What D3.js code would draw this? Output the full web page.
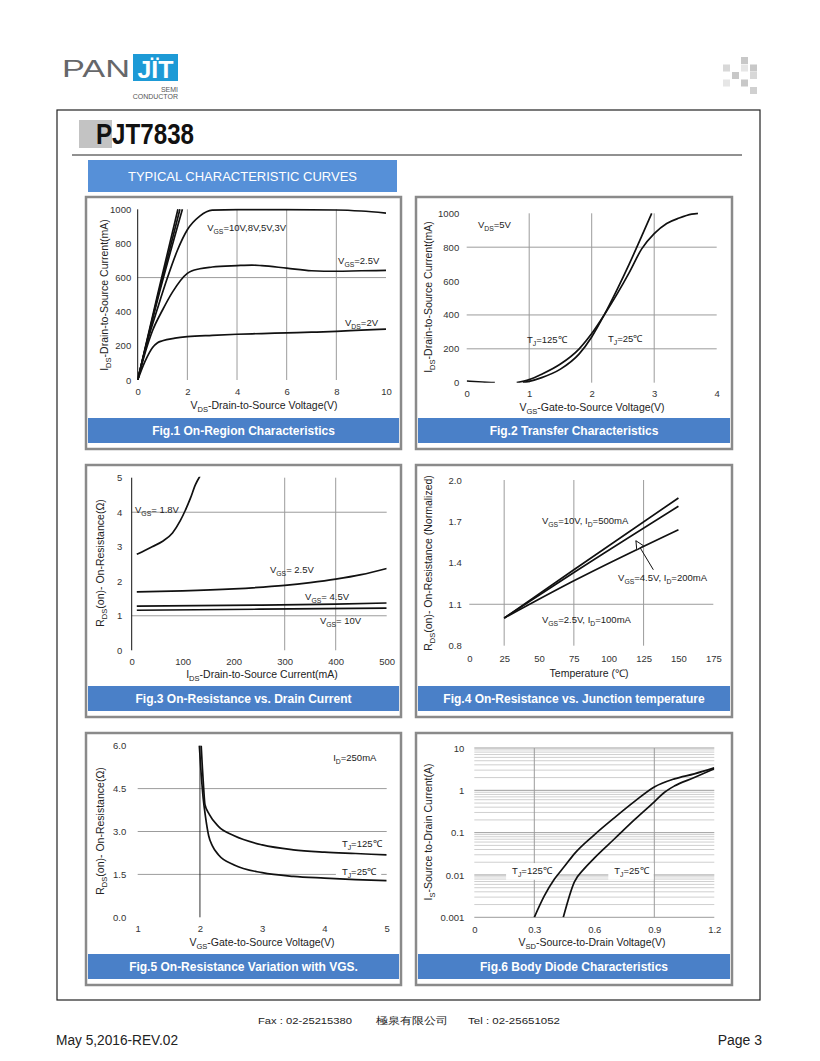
<!DOCTYPE html>
<html>
<head>
<meta charset="utf-8">
<script src="https://cdn.jsdelivr.net/npm/d3@7"></script>
<style>
body { margin: 0; background: #fff; }
svg text { font-family: "Liberation Sans", Arial, sans-serif; }
</style>
</head>
<body>
<div id="page"></div>
<script>
// ---- Fig.1 On-Region Characteristics: [VDS (V), ID (mA)]
var f1Vgs10 = [[0,0],[0.8,500],[1.62,1000]];
var f1Vgs8  = [[0,0],[0.8,485],[1.7,1000]];
var f1Vgs5  = [[0,0],[0.8,470],[1.8,1000]];
var f1Vgs3  = [[0,0],[0.4,230],[0.8,420],[1.2,600],[1.6,760],[2,880],[2.5,960],[3,995],[4,998],[6,998],[8,996],[9,990],[10,978]];
var f1Vgs25 = [[0,0],[0.3,160],[0.6,290],[1,410],[1.4,515],[2,625],[2.5,652],[3,662],[4,670],[4.6,673],[5,670],[6,655],[7,640],[8,637],[9,640],[10,642]];
var f1Vgs2  = [[0,0],[0.3,110],[0.6,190],[0.8,218],[1,230],[1.5,245],[2,254],[3,262],[4,268],[5,272],[6,276],[7,280],[8,285],[9,292],[10,298]];
var f1XTicks = [0,2,4,6,8,10];
var f1YTicks = [0,200,400,600,800,1000];

// ---- Fig.2 Transfer Characteristics: [VGS (V), ID (mA)]
var f2Leak  = [[0,10],[0.25,4],[0.45,0]];
var f2Tj25  = [[0.9,0],[1,8],[1.2,30],[1.5,80],[1.8,170],[2,270],[2.2,400],[2.4,545],[2.6,700],[2.8,865],[2.96,1000]];
var f2Tj125 = [[0.8,0],[1,18],[1.2,50],[1.5,110],[1.8,200],[2,290],[2.2,400],[2.4,520],[2.6,650],[2.8,790],[3,880],[3.2,940],[3.4,972],[3.6,995],[3.7,1000]];
var f2XTicks = [0,1,2,3,4];
var f2YTicks = [0,200,400,600,800,1000];

// ---- Fig.3 On-Resistance vs. Drain Current: [ID (mA), RDS(on) (ohm)]
var f3Vgs18 = [[10,2.78],[20,2.85],[40,3.0],[60,3.15],[80,3.4],[95,3.75],[105,4.05],[115,4.4],[125,4.8],[134,5.05]];
var f3Vgs25 = [[10,1.69],[100,1.72],[200,1.78],[300,1.88],[350,1.96],[400,2.06],[450,2.19],[500,2.37]];
var f3Vgs45 = [[10,1.28],[250,1.31],[400,1.34],[500,1.37]];
var f3Vgs10 = [[10,1.16],[250,1.19],[500,1.22]];
var f3XTicks = [0,100,200,300,400,500];
var f3YTicks = [0,1,2,3,4,5];

// ---- Fig.4 On-Resistance vs. Junction temperature: [T (C), normalized RDS(on)]
var f4Vgs10 = [[25,1.0],[75,1.35],[150,1.87]];
var f4Vgs45 = [[25,1.0],[75,1.33],[150,1.81]];
var f4Vgs25 = [[25,1.0],[75,1.27],[150,1.64]];
var f4Arrow = [[132,1.35],[119.5,1.56]];
var f4XTicks = [0,25,50,75,100,125,150,175];
var f4YTicks = [0.8,1.1,1.4,1.7,2.0];

// ---- Fig.5 On-Resistance Variation with VGS: [VGS (V), RDS(on) (ohm)]
var f5Tj125 = [[2.02,6.0],[2.04,5.2],[2.06,4.5],[2.08,3.95],[2.15,3.6],[2.3,3.17],[2.55,2.85],[3,2.53],[3.5,2.36],[4,2.28],[4.5,2.23],[5,2.18]];
var f5Tj25  = [[1.99,6.0],[2.02,5.0],[2.05,4.2],[2.09,3.5],[2.14,2.85],[2.2,2.5],[2.3,2.18],[2.55,1.83],[3,1.56],[3.5,1.43],[4,1.37],[4.5,1.32],[5,1.28]];
var f5XTicks = [1,2,3,4,5];
var f5YTicks = [0,1.5,3,4.5,6];

// ---- Fig.6 Body Diode Characteristics: [VSD (V), IS (A)]
var f6Tj125 = [[0.3,0.001],[0.35,0.0032],[0.4,0.0079],[0.45,0.0158],[0.5,0.0316],[0.6,0.089],[0.7,0.224],[0.8,0.54],[0.9,1.2],[1.0,1.86],[1.1,2.45],[1.2,3.39]];
var f6Tj25  = [[0.445,0.001],[0.5,0.0068],[0.55,0.0141],[0.6,0.0251],[0.7,0.0708],[0.8,0.2],[0.9,0.537],[0.95,0.89],[1.0,1.26],[1.1,2.0],[1.2,3.24]];
var f6XTicks = [0,0.3,0.6,0.9,1.2];
var f6YTicks = [0.001,0.01,0.1,1,10];

var W = 820, H = 1061;
var captionBlue = "#4a80c8";
var gridGray = "#9c9c9c";

var svg = d3.select("#page").append("svg")
    .attr("width", W)
    .attr("height", H);
svg.append("rect").attr("width", W).attr("height", H).attr("fill", "#fff");

// text with "_{..}" subscripts
function richText(sel, str, size) {
    var re = /_\{([^}]*)\}/g, last = 0, m, shifted = false;
    var sub = size * 0.72, shift = size * 0.28;
    while ((m = re.exec(str)) !== null) {
        if (m.index > last) {
            var t = sel.append("tspan").text(str.slice(last, m.index));
            if (shifted) { t.attr("dy", -shift); shifted = false; }
        }
        sel.append("tspan").attr("font-size", sub).attr("dy", shift).text(m[1]);
        shifted = true;
        last = re.lastIndex;
    }
    if (last < str.length) {
        var t2 = sel.append("tspan").text(str.slice(last));
        if (shifted) t2.attr("dy", -shift);
    }
    return sel;
}

// ---- header
svg.append("text")
    .attr("x", 62).attr("y", 77)
    .attr("font-size", 23)
    .attr("fill", "#66676a")
    .attr("textLength", 68)
    .attr("lengthAdjust", "spacingAndGlyphs")
    .text("PAN");
svg.append("rect")
    .attr("x", 133).attr("y", 54)
    .attr("width", 45).attr("height", 27)
    .attr("fill", "#1d9ad6");
svg.append("text")
    .attr("x", 155.5).attr("y", 78)
    .attr("text-anchor", "middle")
    .attr("font-size", 24)
    .attr("font-weight", "bold")
    .attr("fill", "#fff")
    .attr("textLength", 36)
    .attr("lengthAdjust", "spacingAndGlyphs")
    .text("JÏT");
svg.append("text")
    .attr("x", 178).attr("y", 92)
    .attr("text-anchor", "end")
    .attr("font-size", 7).attr("fill", "#555")
    .text("SEMI");
svg.append("text")
    .attr("x", 178).attr("y", 99)
    .attr("text-anchor", "end")
    .attr("font-size", 7).attr("fill", "#555")
    .text("CONDUCTOR");

// little grey squares top right
var decor = [[2,0,"#c8c8c8"],[0,1,"#d8d8d8"],[2,1,"#e6e6e6"],[3,1,"#c8c8c8"],[1,2,"#c8c8c8"],[3,2,"#d8d8d8"],[0,3,"#e6e6e6"],[2,3,"#c8c8c8"],[3,4,"#d0d0d0"]];
svg.selectAll(".decor")
    .data(decor)
    .enter()
    .append("rect")
    .attr("class", "decor")
    .attr("x", d => 723 + d[0] * 9)
    .attr("y", d => 57 + d[1] * 7.5)
    .attr("width", 7).attr("height", 7)
    .attr("fill", d => d[2]);

// page frame
svg.append("rect")
    .attr("x", 57).attr("y", 110)
    .attr("width", 703).attr("height", 890)
    .attr("fill", "none").attr("stroke", "#222").attr("stroke-width", 1.2);

svg.append("rect")
    .attr("x", 79).attr("y", 120)
    .attr("width", 33).attr("height", 28)
    .attr("fill", "#c3c3c3");
svg.append("text")
    .attr("x", 96).attr("y", 144)
    .attr("font-size", 29)
    .attr("font-weight", "bold")
    .attr("font-family", "'Liberation Sans Narrow', 'Liberation Sans', sans-serif")
    .attr("textLength", 98)
    .attr("lengthAdjust", "spacingAndGlyphs")
    .attr("fill", "#111")
    .text("PJT7838");
svg.append("line")
    .attr("x1", 72).attr("x2", 742)
    .attr("y1", 155).attr("y2", 155)
    .attr("stroke", "#222").attr("stroke-width", 1);

svg.append("rect")
    .attr("x", 88).attr("y", 160)
    .attr("width", 309).attr("height", 32)
    .attr("fill", "#5690d8");
svg.append("text")
    .attr("x", 242.5).attr("y", 181)
    .attr("text-anchor", "middle")
    .attr("font-size", 13)
    .attr("fill", "#fff")
    .text("TYPICAL CHARACTERISTIC CURVES");

// ---- one chart panel
var panelCount = 0;
function drawPanel(cfg) {
    panelCount++;
    var g = svg.append("g");
    var b = cfg.box;

    g.append("rect")
        .attr("x", b[0]).attr("y", b[1])
        .attr("width", b[2]).attr("height", b[3])
        .attr("fill", "#fff")
        .attr("stroke", "#8a8a8a")
        .attr("stroke-width", 2.5);
    g.append("rect")
        .attr("x", b[0] + 2).attr("y", b[1] + 221)
        .attr("width", b[2] - 4).attr("height", 25)
        .attr("fill", captionBlue);
    g.append("text")
        .attr("x", b[0] + b[2] / 2).attr("y", b[1] + 238)
        .attr("text-anchor", "middle")
        .attr("font-size", 12)
        .attr("font-weight", "bold")
        .attr("fill", "#fff")
        .text(cfg.caption);

    var p = cfg.plot; // left, top, right, bottom
    var x = d3.scaleLinear().domain(cfg.xDomain).range([p[0], p[2]]);
    var y = (cfg.log ? d3.scaleLog() : d3.scaleLinear()).domain(cfg.yDomain).range([p[3], p[1]]);

    // grid
    var grid = g.append("g");
    (cfg.yMinorGrid || []).forEach(function (v) {
        grid.append("line")
            .attr("x1", p[0]).attr("x2", p[2])
            .attr("y1", y(v)).attr("y2", y(v))
            .attr("stroke", "#cfcfcf").attr("stroke-width", 1);
    });
    (cfg.yGrid || []).forEach(function (v) {
        grid.append("line")
            .attr("x1", p[0]).attr("x2", p[2])
            .attr("y1", y(v)).attr("y2", y(v))
            .attr("stroke", gridGray).attr("stroke-width", 1);
    });
    (cfg.xGrid || []).forEach(function (v) {
        grid.append("line")
            .attr("x1", x(v)).attr("x2", x(v))
            .attr("y1", p[1]).attr("y2", p[3])
            .attr("stroke", cfg.xGridColor || gridGray).attr("stroke-width", 1);
    });
    if (cfg.leftAxis) {
        grid.append("line")
            .attr("x1", p[0]).attr("x2", p[0])
            .attr("y1", p[1]).attr("y2", p[3])
            .attr("stroke", "#111").attr("stroke-width", 1);
    }

    // label backgrounds hide the grid
    var labelG = g.append("g");

    // curves
    g.append("clipPath")
        .attr("id", "clip" + panelCount)
        .append("rect")
        .attr("x", p[0]).attr("y", p[1] - 1)
        .attr("width", p[2] - p[0]).attr("height", p[3] - p[1] + 1);

    var line = d3.line()
        .x(d => x(d[0]))
        .y(d => y(d[1]))
        .curve(d3.curveMonotoneX);

    g.append("g")
        .attr("clip-path", "url(#clip" + panelCount + ")")
        .selectAll("path")
        .data(cfg.curves)
        .enter()
        .append("path")
        .attr("d", line)
        .attr("fill", "none")
        .attr("stroke", "#111")
        .attr("stroke-width", 1.7)
        .attr("stroke-linejoin", "round");

    // axes (labels only)
    var fs = 9.5;
    var xAxis = g.append("g")
        .attr("transform", "translate(0," + p[3] + ")")
        .call(d3.axisBottom(x).tickValues(cfg.xTicks).tickSize(0).tickPadding(cfg.xPad || 8)
            .tickFormat(cfg.xFormat || (d => String(d))));
    var yAxis = g.append("g")
        .attr("transform", "translate(" + p[0] + ",0)")
        .call(d3.axisLeft(y).tickValues(cfg.yTicks).tickSize(0).tickPadding(cfg.yPad || 8)
            .tickFormat(cfg.yFormat || (d => String(d))));
    [xAxis, yAxis].forEach(function (a) {
        a.select(".domain").remove();
        a.selectAll("text")
            .attr("font-size", fs)
            .attr("font-family", "'Liberation Sans', Arial, sans-serif")
            .attr("fill", "#333");
    });

    // axis titles
    richText(g.append("text")
        .attr("x", cfg.xTitle[0]).attr("y", cfg.xTitle[1] + 3.7)
        .attr("text-anchor", "middle")
        .attr("font-size", 10.5)
        .attr("fill", "#222"), cfg.xTitle[2], 10.5);
    richText(g.append("text")
        .attr("transform", "translate(" + (cfg.yTitle[0] + 3.7) + "," + cfg.yTitle[1] + ") rotate(-90)")
        .attr("text-anchor", "middle")
        .attr("font-size", 10.5)
        .attr("fill", "#222"), cfg.yTitle[2], 10.5);

    // in-plot labels
    (cfg.labels || []).forEach(function (l) {
        var t = labelG.append("text")
            .attr("x", x(l[0])).attr("y", y(l[1]))
            .attr("font-size", 9.5)
            .attr("fill", "#222");
        richText(t, l[2], 9.5);
        if (l[3]) {
            var bb = t.node().getBBox();
            labelG.insert("rect", "text")
                .attr("x", bb.x - 6).attr("y", bb.y - 2)
                .attr("width", bb.width + 10).attr("height", bb.height + 4)
                .attr("fill", "#fff");
        }
    });

    if (cfg.arrow) {
        var a0 = cfg.arrow[0], a1 = cfg.arrow[1];
        var x0 = x(a0[0]), y0 = y(a0[1]), x1 = x(a1[0]), y1 = y(a1[1]);
        var ang = Math.atan2(y1 - y0, x1 - x0);
        g.append("line")
            .attr("x1", x0).attr("y1", y0).attr("x2", x1).attr("y2", y1)
            .attr("stroke", "#111").attr("stroke-width", 1);
        var len = 9, spread = 0.45;
        var pts = [
            [x1 - len * Math.cos(ang - spread), y1 - len * Math.sin(ang - spread)],
            [x1, y1],
            [x1 - len * Math.cos(ang + spread), y1 - len * Math.sin(ang + spread)]
        ];
        g.append("path")
            .attr("d", "M" + pts.map(q => q.join(",")).join("L") + "Z")
            .attr("fill", "#fff").attr("stroke", "#111").attr("stroke-width", 1);
    }
}

var f6Minor = [];
[0.001, 0.01, 0.1, 1].forEach(function (dec) {
    for (var k = 2; k <= 9; k++) f6Minor.push(dec * k);
});

drawPanel({
    box: [86, 197, 315, 252],
    caption: "Fig.1 On-Region Characteristics",
    plot: [137.7, 209.3, 386, 380],
    xDomain: [0, 10], yDomain: [0, 1000],
    xTicks: f1XTicks, yTicks: f1YTicks,
    xGrid: [2, 4, 6, 8], yGrid: [600],
    leftAxis: true,
    xPad: 8.5, yPad: 6.5,
    curves: [f1Vgs10, f1Vgs8, f1Vgs5, f1Vgs3, f1Vgs25, f1Vgs2],
    labels: [[2.8, 873, "V_{GS}=10V,8V,5V,3V"], [8.07, 680, "V_{GS}=2.5V"], [8.35, 316, "V_{DS}=2V"]],
    xTitle: [264, 405, "V_{DS}-Drain-to-Source Voltage(V)"],
    yTitle: [104, 295, "I_{DS}-Drain-to-Source Current(mA)"]
});

drawPanel({
    box: [416, 197, 316, 252],
    caption: "Fig.2 Transfer Characteristics",
    plot: [466.7, 213.3, 716.7, 382.7],
    xDomain: [0, 4], yDomain: [0, 1000],
    xTicks: f2XTicks, yTicks: f2YTicks,
    xGrid: [1, 2, 3], yGrid: [200, 400, 800],
    xPad: 7.5, yPad: 7.5,
    curves: [f2Leak, f2Tj25, f2Tj125],
    labels: [[0.18, 913, "V_{DS}=5V"], [0.965, 235, "T_{J}=125℃"], [2.26, 238, "T_{J}=25℃"]],
    xTitle: [592, 407, "V_{GS}-Gate-to-Source Voltage(V)"],
    yTitle: [428, 297, "I_{DS}-Drain-to-Source Current(mA)"]
});

drawPanel({
    box: [86, 465, 315, 252],
    caption: "Fig.3 On-Resistance vs. Drain Current",
    plot: [131.7, 477.7, 386.7, 650.3],
    xDomain: [0, 500], yDomain: [0, 5],
    xTicks: f3XTicks, yTicks: f3YTicks,
    xGrid: [300, 400], yGrid: [1, 4],
    leftAxis: true,
    xPad: 8, yPad: 9.5,
    curves: [f3Vgs18, f3Vgs25, f3Vgs45, f3Vgs10],
    labels: [[6.5, 3.98, "V_{GS}= 1.8V"], [271, 2.24, "V_{GS}= 2.5V"], [340, 1.46, "V_{GS}= 4.5V"], [369, 0.76, "V_{GS}= 10V"]],
    xTitle: [262, 674, "I_{DS}-Drain-to-Source  Current(mA)"],
    yTitle: [100, 563, "R_{DS}(on)- On-Resistance(Ω)"]
});

drawPanel({
    box: [416, 465, 316, 252],
    caption: "Fig.4 On-Resistance vs. Junction temperature",
    plot: [469.3, 480, 713.3, 645.7],
    xDomain: [0, 175], yDomain: [0.8, 2.0],
    xTicks: f4XTicks, yTicks: f4YTicks,
    xGrid: [25, 75, 125], yGrid: [1.1],
    xPad: 9.5, yPad: 7.5,
    yFormat: d3.format(".1f"),
    curves: [f4Vgs10, f4Vgs45, f4Vgs25],
    arrow: f4Arrow,
    labels: [[52.1, 1.681, "V_{GS}=10V, I_{D}=500mA"], [106.7, 1.268, "V_{GS}=4.5V, I_{D}=200mA"], [52.1, 0.964, "V_{GS}=2.5V, I_{D}=100mA"]],
    xTitle: [589, 673, "Temperature (℃)"],
    yTitle: [428, 563, "R_{DS}(on)- On-Resistance (Normalized)"]
});

drawPanel({
    box: [86, 733, 315, 252],
    caption: "Fig.5 On-Resistance Variation with VGS.",
    plot: [137.7, 745.7, 386.7, 917.3],
    xDomain: [1, 5], yDomain: [0, 6],
    xTicks: f5XTicks, yTicks: f5YTicks,
    xGrid: [2], xGridColor: "#333", yGrid: [1.5, 3, 4.5],
    xPad: 8, yPad: 11.5,
    yFormat: d3.format(".1f"),
    curves: [f5Tj125, f5Tj25],
    labels: [[4.14, 5.47, "I_{D}=250mA"], [4.28, 2.46, "T_{J}=125℃"], [4.28, 1.48, "T_{J}=25℃", true]],
    xTitle: [262, 942, "V_{GS}-Gate-to-Source  Voltage(V)"],
    yTitle: [100, 831, "R_{DS}(on)- On-Resistance(Ω)"]
});

drawPanel({
    box: [416, 733, 316, 252],
    caption: "Fig.6 Body Diode Characteristics",
    plot: [474.3, 748, 714.3, 917.3],
    log: true,
    xDomain: [0, 1.2], yDomain: [0.001, 10],
    xTicks: f6XTicks, yTicks: f6YTicks,
    xGrid: [0.3, 0.9], yGrid: [0.001, 0.01, 0.1, 1, 10], yMinorGrid: f6Minor,
    xPad: 9, yPad: 10,
    curves: [f6Tj125, f6Tj25],
    labels: [[0.189, 0.0105, "T_{J}=125℃", true], [0.70, 0.0105, "T_{J}=25℃", true]],
    xTitle: [592, 942, "V_{SD}-Source-to-Drain Voltage(V)"],
    yTitle: [428, 832, "I_{S}-Source to-Drain Current(A)"]
});

// ---- footer
var mono = "'DejaVu Sans Mono', 'Liberation Mono', monospace";
svg.append("text")
    .attr("x", 258).attr("y", 1024)
    .attr("font-size", 9).attr("font-family", mono).attr("fill", "#222")
    .attr("textLength", 94).attr("lengthAdjust", "spacingAndGlyphs")
    .text("Fax : 02-25215380");
svg.append("text")
    .attr("x", 376).attr("y", 1024)
    .attr("font-size", 10).attr("font-family", "'Noto Sans CJK TC', sans-serif").attr("fill", "#222")
    .attr("textLength", 72).attr("lengthAdjust", "spacingAndGlyphs")
    .text("極泉有限公司");
svg.append("text")
    .attr("x", 468).attr("y", 1024)
    .attr("font-size", 9).attr("font-family", mono).attr("fill", "#222")
    .attr("textLength", 92).attr("lengthAdjust", "spacingAndGlyphs")
    .text("Tel : 02-25651052");
svg.append("text")
    .attr("x", 56).attr("y", 1045)
    .attr("font-size", 14)
    .attr("font-family", "'Liberation Sans Narrow', 'Liberation Sans', sans-serif")
    .attr("textLength", 122).attr("lengthAdjust", "spacingAndGlyphs")
    .attr("fill", "#222")
    .text("May 5,2016-REV.02");
svg.append("text")
    .attr("x", 762).attr("y", 1045)
    .attr("text-anchor", "end")
    .attr("font-size", 14)
    .attr("font-family", "'Liberation Sans Narrow', 'Liberation Sans', sans-serif")
    .attr("fill", "#222")
    .text("Page 3");
</script>
</body>
</html>
